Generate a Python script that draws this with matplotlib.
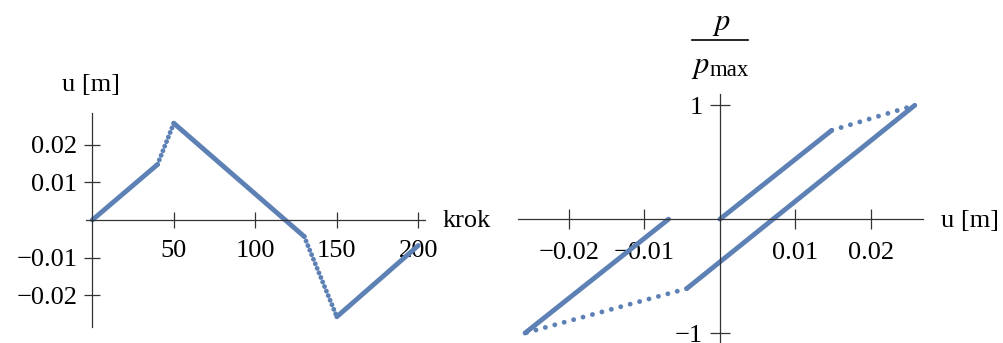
import matplotlib
matplotlib.use("Agg")
from matplotlib import pyplot as plt
from matplotlib.lines import Line2D

plt.rcParams['font.family'] = ['Liberation Serif', 'DejaVu Serif']
plt.rcParams['mathtext.fontset'] = 'stix'

# breakpoints of the loading history: step number, displacement, relative force
steps = [0, 40, 50, 130, 150, 200]
u_vals = [0.0, 0.0148, 0.0258, -0.0044, -0.0258, -0.0068]
p_vals = [0.0, 0.78, 1.0, -0.61, -1.0, 0.0]
# segments with plastic flow (drawn as sparse points)
plastic = [False, True, False, True, False]

left_xticks = [50, 100, 150, 200]
left_yticks = [-0.02, -0.01, 0.01, 0.02]
right_xticks = [-0.02, -0.01, 0.01, 0.02]
right_yticks = [-1, 1]

blue = '#5E81B5'
axis_col = '#333333'
fs = 19
W, H = 1004, 343


def fmt(v):
    s = ('%g' % abs(v))
    return ('\u2212' + s) if v < 0 else s


def style_axes(ax, tick_len):
    for side in ['top', 'right']:
        ax.spines[side].set_visible(False)
    ax.spines['left'].set_position(('data', 0))
    ax.spines['bottom'].set_position(('data', 0))
    for side in ['left', 'bottom']:
        ax.spines[side].set_color(axis_col)
        ax.spines[side].set_linewidth(0.9)
    ax.tick_params(direction='inout', length=tick_len, width=0.9, color=axis_col,
                   labelsize=fs, labelcolor='black')
    ax.tick_params(axis='x', pad=9)
    ax.tick_params(axis='y', pad=5)
    ax.patch.set_visible(False)


def draw_segments(ax, xs, ys, dot_gap):
    for i in range(len(xs) - 1):
        seg_x = xs[i:i + 2]
        seg_y = ys[i:i + 2]
        if plastic[i]:
            ax.plot(seg_x, seg_y, color=blue, lw=3.5, dashes=(0.01, dot_gap),
                    dash_capstyle='round', clip_on=False)
        else:
            ax.plot(seg_x, seg_y, color=blue, lw=3.5, solid_capstyle='round',
                    clip_on=False)


fig = plt.figure(figsize=(W / 100, H / 100), dpi=100)

# displacement against step number
ax1 = fig.add_axes([86 / W, (H - 326.7) / H, 339 / W, 213.4 / H])
ax1.set_xlim(-3.87, 204.1)
ax1.set_ylim(-0.02845, 0.02845)
draw_segments(ax1, steps, u_vals, 1.0)
style_axes(ax1, 11.5)
ax1.set_xticks(left_xticks)
ax1.set_xticklabels([fmt(v) for v in left_xticks])
ax1.set_yticks(left_yticks)
ax1.set_yticklabels([fmt(v) for v in left_yticks])

# force-displacement loop
ax2 = fig.add_axes([518.3 / W, (H - 344.4) / H, 404.4 / W, 250.5 / H])
ax2.set_xlim(-0.0267, 0.02685)
ax2.set_ylim(-1.1, 1.1)
draw_segments(ax2, u_vals, p_vals, 2.0)
style_axes(ax2, 14.4)
ax2.set_xticks(right_xticks)
ax2.set_xticklabels([fmt(v) for v in right_xticks])
ax2.set_yticks(right_yticks)
ax2.set_yticklabels([fmt(v) for v in right_yticks])

# axis captions
fig.text(443 / W, 1 - 221 / H, 'krok', fontsize=fs, ha='left', va='center')
fig.text(91.5 / W, 1 - 85 / H, 'u [m]', fontsize=fs, ha='center', va='center')
fig.text(941 / W, 1 - 221 / H, 'u [m]', fontsize=fs, ha='left', va='center')

# p / p_max written as a stacked fraction
fig.text(721 / W, 1 - 30 / H, '$p$', fontsize=fs + 3,
         ha='center', va='baseline')
fig.add_artist(Line2D([692 / W, 748 / W], [1 - 40 / H, 1 - 40 / H],
                      color='black', lw=1.2))
fig.text(691 / W, 1 - 73 / H, '$p$', fontsize=fs + 3,
         ha='left', va='baseline')
fig.text(710 / W, 1 - 76 / H, 'max', fontsize=fs - 2.5,
         ha='left', va='baseline')

fig.savefig('out.png', dpi=100, facecolor='white')
